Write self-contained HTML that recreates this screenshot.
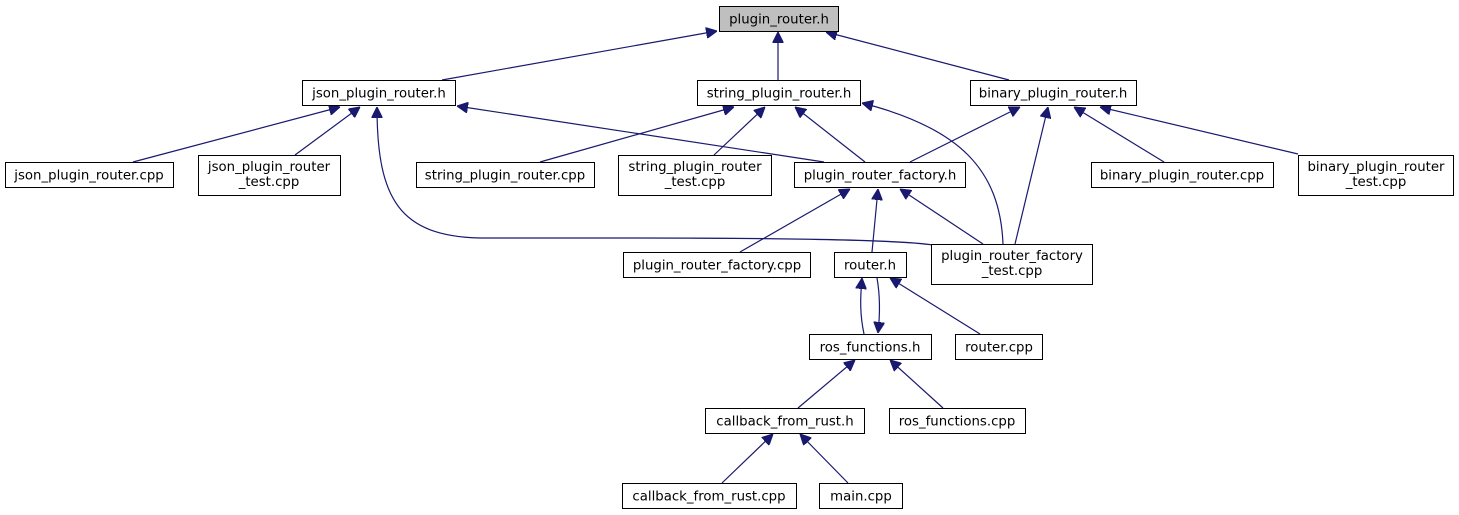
<!DOCTYPE html>
<html><head><meta charset="utf-8"><style>
html,body{margin:0;padding:0;background:#fff;}
svg{display:block;}
text{font-family:"DejaVu Sans","Liberation Sans",sans-serif;font-size:13.3px;fill:#000;text-anchor:middle;}
rect{fill:#fff;stroke:#000;stroke-width:1;}
.e{fill:none;stroke:#191970;stroke-width:1.2;}
</style></head><body>
<svg width="1459" height="515" viewBox="0 0 1459 515" xmlns="http://www.w3.org/2000/svg">
<defs><marker id="a" viewBox="0 0 10 10" refX="10" refY="5" markerWidth="11" markerHeight="11" markerUnits="userSpaceOnUse" orient="auto"><path d="M0,0 L10,5 L0,10 z" fill="#191970" stroke="#191970"/></marker></defs>
<g class="edges">
<path class="e" marker-end="url(#a)" d="M442,80 L717,31"/>
<path class="e" marker-end="url(#a)" d="M778,80 L778,32"/>
<path class="e" marker-end="url(#a)" d="M1009,80 L826,32"/>
<path class="e" marker-end="url(#a)" d="M133,162 L340,107"/>
<path class="e" marker-end="url(#a)" d="M295,155 L360,107"/>
<path class="e" marker-end="url(#a)" d="M933,245 C900,240 800,238 620,238 L480,238 C400,236 377,200 377,107"/>
<path class="e" marker-end="url(#a)" d="M824,162 L457,106"/>
<path class="e" marker-end="url(#a)" d="M540,162 L734,107"/>
<path class="e" marker-end="url(#a)" d="M714,155 L765,107"/>
<path class="e" marker-end="url(#a)" d="M865,162 L795,107"/>
<path class="e" marker-end="url(#a)" d="M1003,244 C1000,170 960,128 862,103"/>
<path class="e" marker-end="url(#a)" d="M910,162 L1020,107"/>
<path class="e" marker-end="url(#a)" d="M1015,244 L1048,107"/>
<path class="e" marker-end="url(#a)" d="M1164,162 L1074,107"/>
<path class="e" marker-end="url(#a)" d="M1298,154 L1100,107"/>
<path class="e" marker-end="url(#a)" d="M740,252 L850,189"/>
<path class="e" marker-end="url(#a)" d="M872,252 L878,189"/>
<path class="e" marker-end="url(#a)" d="M983,244 L900,189"/>
<path class="e" marker-end="url(#a)" d="M864,334 C860,315 860,300 862,278"/>
<path class="e" marker-end="url(#a)" d="M877,278 C880,295 880,315 878,333"/>
<path class="e" marker-end="url(#a)" d="M980,334 L890,278"/>
<path class="e" marker-end="url(#a)" d="M798,408 L855,360"/>
<path class="e" marker-end="url(#a)" d="M943,408 L890,360"/>
<path class="e" marker-end="url(#a)" d="M722,483 L773,434"/>
<path class="e" marker-end="url(#a)" d="M848,483 L800,434"/>
</g>
<g>
<rect x="719.5" y="6.5" width="119" height="25" style="fill:#bfbfbf"/><text x="779" y="23.5">plugin_router.h</text>
<rect x="302.5" y="80.5" width="153" height="25"/><text x="379" y="97.5">json_plugin_router.h</text>
<rect x="697.5" y="80.5" width="163" height="25"/><text x="779" y="97.5">string_plugin_router.h</text>
<rect x="970.5" y="80.5" width="166" height="25"/><text x="1053" y="97.5">binary_plugin_router.h</text>
<rect x="5.5" y="162.5" width="168" height="25"/><text x="89" y="179.5">json_plugin_router.cpp</text>
<rect x="198.5" y="155.5" width="142" height="40"/><text x="269" y="171">json_plugin_router</text><text x="269" y="186">_test.cpp</text>
<rect x="416.5" y="162.5" width="178" height="25"/><text x="505" y="179.5">string_plugin_router.cpp</text>
<rect x="618.5" y="155.5" width="153" height="40"/><text x="695" y="171">string_plugin_router</text><text x="695" y="186">_test.cpp</text>
<rect x="794.5" y="162.5" width="171" height="25"/><text x="880" y="179.5">plugin_router_factory.h</text>
<rect x="1091.5" y="162.5" width="182" height="25"/><text x="1182" y="179.5">binary_plugin_router.cpp</text>
<rect x="1298.5" y="155.5" width="155" height="40"/><text x="1376" y="171">binary_plugin_router</text><text x="1376" y="186">_test.cpp</text>
<rect x="623.5" y="252.5" width="187" height="25"/><text x="717" y="269.5">plugin_router_factory.cpp</text>
<rect x="834.5" y="252.5" width="72" height="25"/><text x="870" y="269.5">router.h</text>
<rect x="931.5" y="244.5" width="161" height="40"/><text x="1012" y="260">plugin_router_factory</text><text x="1012" y="275">_test.cpp</text>
<rect x="809.5" y="334.5" width="122" height="25"/><text x="870" y="351.5">ros_functions.h</text>
<rect x="955.5" y="334.5" width="87" height="25"/><text x="999" y="351.5">router.cpp</text>
<rect x="705.5" y="408.5" width="159" height="25"/><text x="785" y="425.5">callback_from_rust.h</text>
<rect x="889.5" y="408.5" width="136" height="25"/><text x="957" y="425.5">ros_functions.cpp</text>
<rect x="622.5" y="483.5" width="174" height="25"/><text x="709" y="500.5">callback_from_rust.cpp</text>
<rect x="819.5" y="483.5" width="83" height="25"/><text x="861" y="500.5">main.cpp</text>
</g>
</svg>
</body></html>
